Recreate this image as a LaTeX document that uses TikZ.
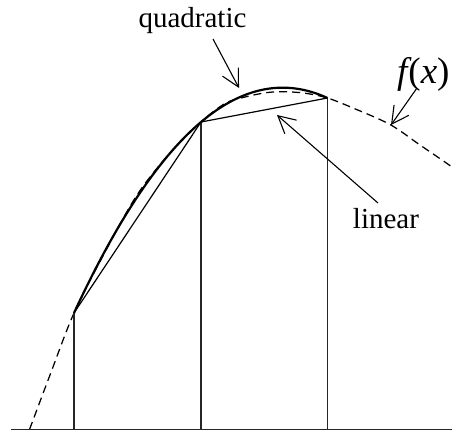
\documentclass[tikz,border=0pt]{standalone}
\usepackage{fontspec}
\setmainfont{Liberation Serif}
\usetikzlibrary{arrows.meta}
\begin{document}
\begin{tikzpicture}[x=1pt,y=-1pt,
  thin line/.style={line width=1.3pt, black!85},
  chord/.style={line width=1.2pt, black},
  quad/.style={line width=2.2pt, black},
  fdash/.style={line width=1.25pt, black, dash pattern=on 8pt off 5pt},
  pointer/.style={line width=1.1pt, -{Straight Barb[length=17pt,width=18pt]}},
  lbl/.style={font=\fontsize{29}{31}\selectfont, inner sep=0pt},
  flbl/.style={font=\fontsize{37}{40}\selectfont, inner sep=0pt}]
\useasboundingbox (0,0) rectangle (452,432);
\clip (0,0) rectangle (452,432);
% points
\coordinate (p0) at (74,313);
\coordinate (p1) at (201,122);
\coordinate (p2) at (327.5,98);
\coordinate (b0) at (74,429.5);
\coordinate (b1) at (201,429.5);
\coordinate (b2) at (327.5,429.5);
\coordinate (bl) at (11,429.5);
\coordinate (br) at (452,429.5);
% dashed f(x)
\draw[fdash] plot[smooth, tension=0.55] coordinates {(29.5,429.5) (50,375) (74,313) (105,252) (137,195) (170,153) (201,122) (225,103.5) (245,97) (267,92.6) (285,91.8) (305,93.2) (327.5,98) (353,108) (390,124.5) (420,145) (452,167) (470,181)};
% baseline and verticals
\draw[thin line] (bl) -- (br);
\draw[thin line] (p0) -- (b0);
\draw[thin line] (p1) -- (b1);
\draw[thin line] (p2) -- (b2);
% linear
\draw[chord] (p0) -- (p1) -- (p2);
% quadratic
\draw[quad] (p0) .. controls (158.33,130.57) and (242.67,58.9) .. (p2);
% labels
\node[lbl, anchor=base] (lq) at (192.5,27) {quadratic};
\node[lbl, anchor=base] (ll) at (386,228.5) {linear};
\node[flbl, anchor=base west] (lf) at (397,83) {\itshape f\kern1pt\upshape(\itshape x\upshape)};
% arrows
\coordinate (qs) at (213,39);
\coordinate (qt) at (239,88);
\coordinate (ls) at (378,203);
\coordinate (lt) at (277,115);
\coordinate (fs) at (417,88);
\coordinate (ft) at (391,125);
\draw[pointer] (qs) -- (qt);
\draw[pointer] (ls) -- (lt);
\draw[pointer] (fs) -- (ft);
\end{tikzpicture}
\end{document}
